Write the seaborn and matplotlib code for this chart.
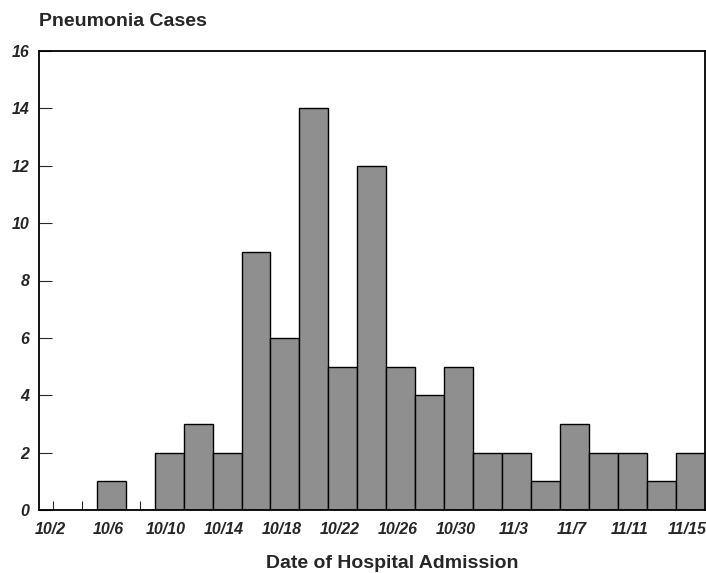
import matplotlib
matplotlib.use("Agg")
import matplotlib.pyplot as plt
import matplotlib.transforms as mtransforms
import seaborn as sns
import pandas as pd

# admission dates (2-day bins) and pneumonia case counts
dates = ["10/2", "10/4", "10/6", "10/8", "10/10", "10/12", "10/14", "10/16",
         "10/18", "10/20", "10/22", "10/24", "10/26", "10/28", "10/30",
         "11/1", "11/3", "11/5", "11/7", "11/9", "11/11", "11/13", "11/15"]
cases = [0, 0, 1, 0, 2, 3, 2, 9, 6, 14, 5, 12, 5, 4, 5, 2, 2, 1, 3, 2, 2, 1, 2]
y_ticks = [0, 2, 4, 6, 8, 10, 12, 14, 16]

df = pd.DataFrame({"date": dates, "cases": cases})

sns.set_style("white")
plt.rcParams["font.family"] = ["Liberation Sans", "DejaVu Sans"]

fig = plt.figure(figsize=(7.06, 5.73), dpi=100)
ax = fig.add_axes([39 / 706, 1 - 510 / 573, (704.5 - 39) / 706, (510 - 51) / 573])

sns.barplot(data=df, x="date", y="cases", order=dates, color="#8f8f8f",
            saturation=1, width=1.0, edgecolor="black", linewidth=1.0, ax=ax)

ax.set_xlim(-0.5, len(dates) - 0.5)
ax.set_ylim(0, 16)
ax.set_yticks(y_ticks)
ax.set_yticklabels([str(v) for v in y_ticks], fontsize=11.5,
                   fontweight="bold", fontstyle="italic")
ax.set_xticks(range(len(dates)))
ax.set_xticklabels([d if i % 2 == 0 else "" for i, d in enumerate(dates)],
                   fontsize=11.5, fontweight="bold", fontstyle="italic")

ax.tick_params(axis="y", direction="in", length=9.5, width=0.8, pad=7, left=True)
ax.tick_params(axis="x", direction="in", length=6.5, width=0.8, pad=8.5, bottom=True)

# italic labels sit a little left of their ticks in the original
shift = mtransforms.ScaledTranslation(-3 / 100, 0, fig.dpi_scale_trans)
for lab in ax.get_xticklabels():
    lab.set_transform(lab.get_transform() + shift)

for s in ax.spines.values():
    s.set_visible(True)
    s.set_color("black")
    s.set_linewidth(1.3)

ax.set_xlabel("Date of Hospital Admission", fontsize=14, fontweight="bold")
ax.xaxis.set_label_coords((392.5 - 39) / (704.5 - 39), -(564 - 510) / (510 - 51))
ax.xaxis.label.set_va("center")
ax.set_ylabel("")

fig.text(39 / 706, 1 - 22 / 573, "Pneumonia Cases", fontsize=14,
         fontweight="bold", ha="left", va="center")

fig.savefig("out.png", dpi=100)
